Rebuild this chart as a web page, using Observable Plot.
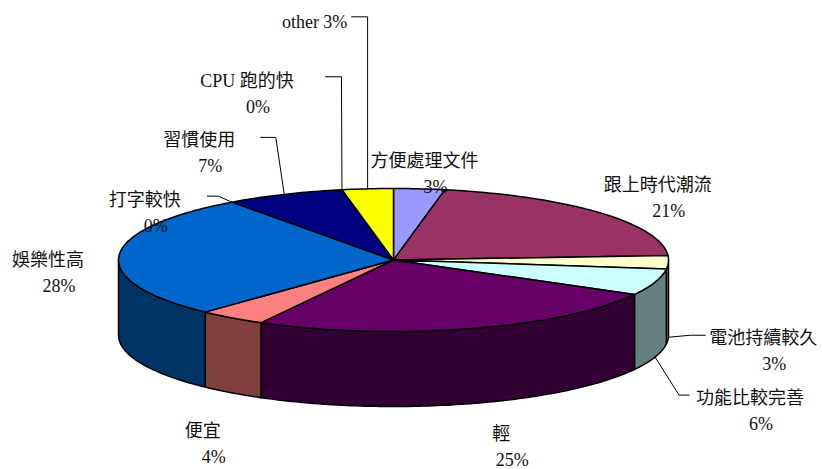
<!DOCTYPE html>
<html><head><meta charset="utf-8">
<script src="https://cdn.jsdelivr.net/npm/d3@7"></script>
<script src="https://cdn.jsdelivr.net/npm/@observablehq/plot@0.6"></script>
<style>html,body{margin:0;padding:0;background:#fff}</style>
</head><body><div id="chart"></div>
<script>
// ---- data ----
const categories = ["方便處理文件","跟上時代潮流","電池持續較久","功能比較完善","輕","便宜","娛樂性高","打字較快","習慣使用","CPU 跑的快","other"];
const values = [3,21,3,6,25,4,28,0,7,0,3];
const colors = ["#9999FF","#993366","#FFFFCC","#CCFFFF","#660066","#FF8080","#0066CC","#CCCCFF","#000080","#FF00FF","#FFFF00"];

// ---- layout ----
const W = 822, H = 469;
const cx = 393, cy = 259.5, rx = 275, ry = 71.5, depth = 75;
const labelOffsets = [[5,-28],[58,-27],[95,76],[95,116],[31,106],[-29,113],[-71,5],[-87,-2],[-85,-54],[-95,-109],[-53,-167]];
const secondLine = [11, 26];
const leaders = {2:{end:[-58,-3],elbow:-15}, 3:{end:[-61,-3],elbow:-10}, 7:{end:[62.5,-4],elbow:11}, 8:{end:[61.5,-3],elbow:15}, 9:{end:[78.5,-4],elbow:16}, 10:{end:[37,-5],elbow:16}};
const oneLine = new Set([10]);
const fontFamily = "'Liberation Serif','Times New Roman','Noto Sans CJK TC',serif";

const total = d3.sum(values);
const rad = d => d * Math.PI / 180;
const pt = (deg, dz = 0) => [cx + rx * Math.sin(rad(deg)), cy - ry * Math.cos(rad(deg)) + dz];

let acc = 0;
const slices = values.map((v, i) => {
  const a0 = acc / total * 360; acc += v; const a1 = acc / total * 360;
  return {i, v, a0, a1, mid: (a0 + a1) / 2};
});

const darker = c => { const r = d3.rgb(c); return d3.rgb(r.r / 2, r.g / 2, r.b / 2).formatHex(); };
const arc = (a, b) => { const n = Math.max(2, Math.ceil(Math.abs(b - a))); return d3.range(n + 1).map(k => a + (b - a) * k / n); };

const polys = [];
// side walls (front half only)
for (const s of slices) {
  const a = Math.max(s.a0, 90), b = Math.min(s.a1, 270);
  if (b <= a) continue;
  const top = arc(a, b).map(t => pt(t));
  const bot = arc(b, a).map(t => pt(t, depth));
  for (const [x, y] of [...top, ...bot]) polys.push({id: "s" + s.i, x, y, fill: darker(colors[s.i])});
}
// top wedges
for (const s of slices) {
  if (s.v <= 0) continue;
  const pts = [[cx, cy], ...arc(s.a0, s.a1).map(t => pt(t))];
  for (const [x, y] of pts) polys.push({id: "t" + s.i, x, y, fill: colors[s.i]});
}

// labels
const texts = [], leadRows = [];
for (const s of slices) {
  const front = Math.cos(rad(s.mid)) < 0;
  const [ax, ay] = pt(s.mid);
  const [sx, sy] = pt(s.mid, front ? depth : 0);
  const [ox, oy] = labelOffsets[s.i];
  const lx = ax + ox, ly = ay + oy;
  const pct = Math.round(s.v / total * 100) + "%";
  if (oneLine.has(s.i)) {
    texts.push({x: lx, y: ly, text: categories[s.i] + " " + pct});
  } else {
    texts.push({x: lx, y: ly, text: categories[s.i]});
    texts.push({x: lx + secondLine[0], y: ly + secondLine[1], text: pct});
  }
  const L = leaders[s.i];
  if (L) {
    const ex = lx + L.end[0], ey = ly + L.end[1];
    const pts = [[sx, sy], [ex + L.elbow, ey], [ex, ey]];
    for (const [x, y] of pts) leadRows.push({id: "l" + s.i, x, y});
  }
}

const chart = Plot.plot({
  width: W, height: H, margin: 0,
  x: {domain: [0, W], range: [0, W], axis: null},
  y: {domain: [0, H], range: [0, H], axis: null},
  color: {type: "identity"},
  style: {background: "#fff"},
  marks: [
    Plot.line(polys, {x: "x", y: "y", z: "id", fill: "fill", stroke: "#000", strokeWidth: 1.5, strokeLinejoin: "round", curve: "linear-closed"}),
    Plot.line(leadRows, {x: "x", y: "y", z: "id", stroke: "#000", strokeWidth: 1}),
    Plot.text(texts, {x: "x", y: "y", text: "text", fontSize: 18, fontFamily, fill: "#111"})
  ]
});
document.getElementById("chart").appendChild(chart);
</script>
</body></html>
